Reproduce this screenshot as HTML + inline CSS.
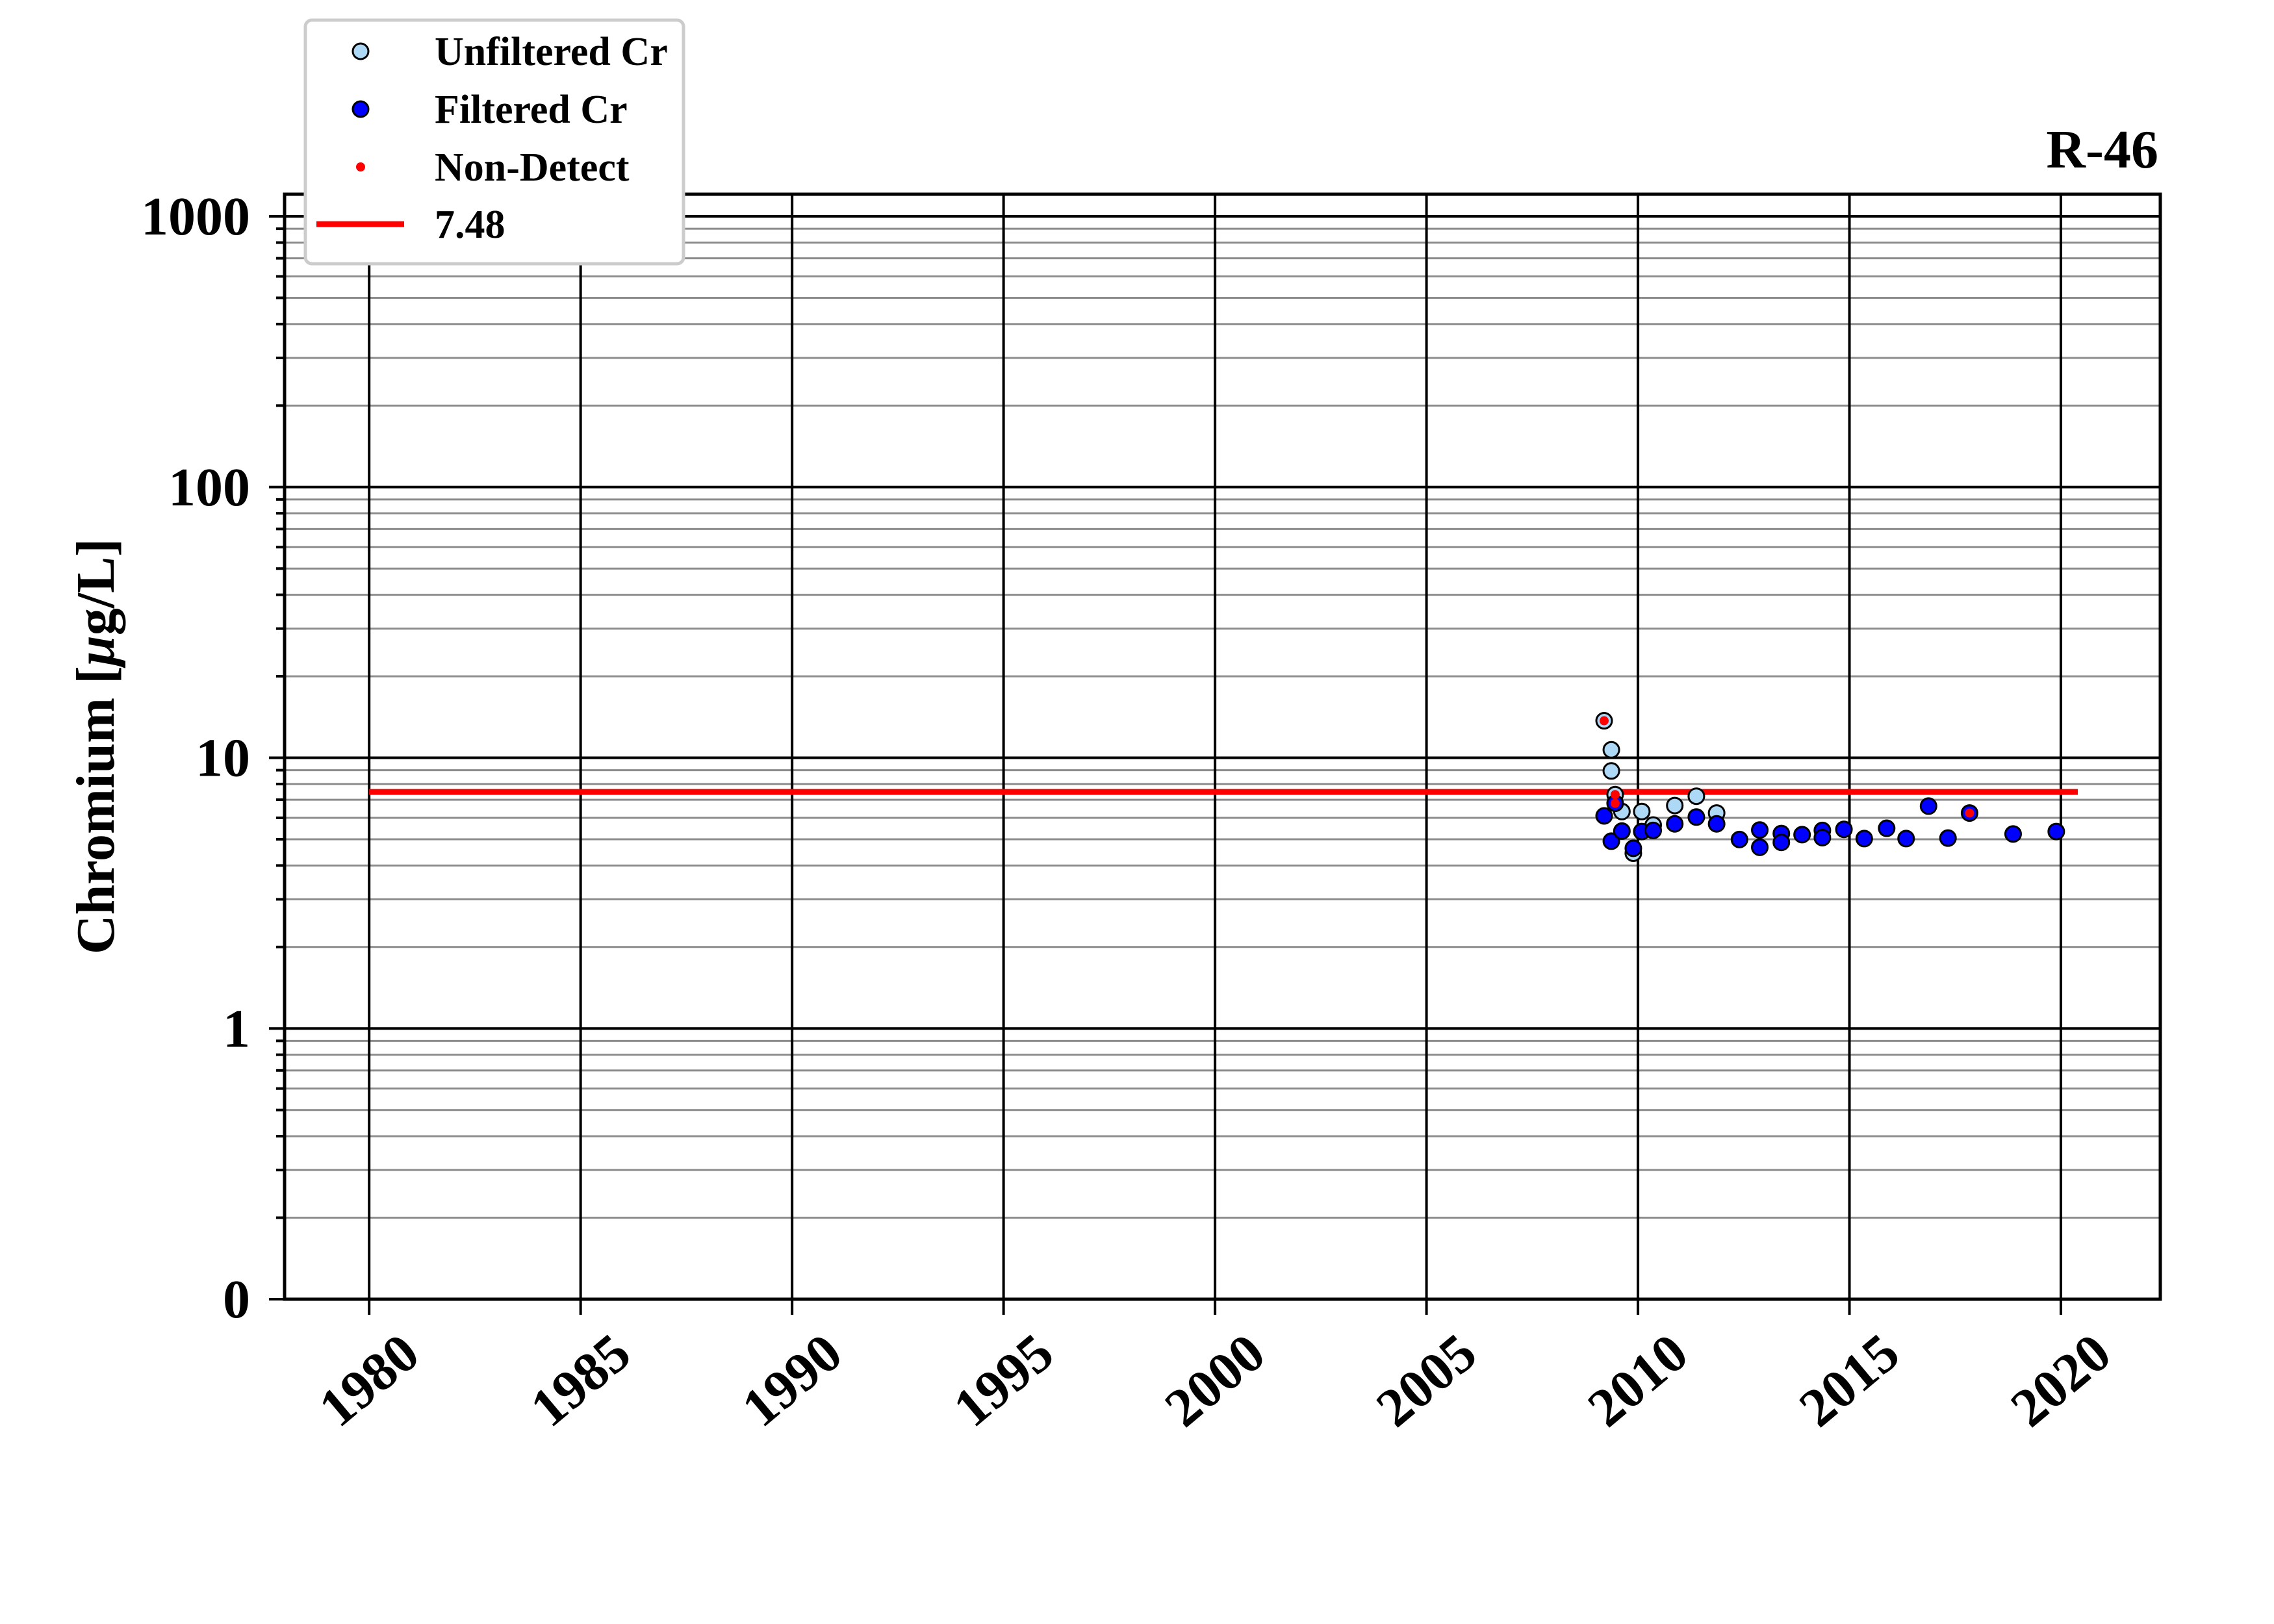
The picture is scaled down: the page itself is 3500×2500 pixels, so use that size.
<!DOCTYPE html>
<html><head><meta charset="utf-8"><style>
html,body{margin:0;padding:0;background:#fff;}
svg{display:block;font-family:"Liberation Serif",serif;font-weight:bold;}
</style></head><body>
<svg id="chart" width="3500" height="2500" viewBox="0 0 3500 2500" xmlns="http://www.w3.org/2000/svg">
<g id="grid"></g>
<g id="series"></g>
<g id="axes"></g>
<text x="3322" y="258" font-size="84" text-anchor="end">R-46</text>
<text transform="translate(175,1149) rotate(-90)" font-size="84" text-anchor="middle">Chromium [<tspan font-style="italic">μ</tspan>g/L]</text>
<g>
<rect x="470" y="31" width="582" height="375" rx="10" fill="#fff" stroke="#ccc" stroke-width="5"/>
<circle cx="555" cy="79" r="12" fill="#add8f6" stroke="#000" stroke-width="3"/>
<text x="669" y="100" font-size="62">Unfiltered Cr</text>
<circle cx="555" cy="168" r="12" fill="#0000ff" stroke="#000" stroke-width="3"/>
<text x="669" y="189" font-size="62">Filtered Cr</text>
<circle cx="555" cy="257" r="7" fill="#ff0000"/>
<text x="669" y="278" font-size="62">Non-Detect</text>
<line x1="487" y1="345" x2="622" y2="345" stroke="#ff0000" stroke-width="9"/>
<text x="669" y="366" font-size="62">7.48</text>
</g>
</svg>
<script>
const xTicks = [1980,1985,1990,1995,2000,2005,2010,2015,2020];
const yTicks = [0.1,1,10,100,1000];
const yTickLabels = ["0","1","10","100","1000"];
const threshold = 7.48;
const thresholdStart = 1980;
const thresholdEnd = 2020.4;
const unfYears = [2009.2,2009.37,2009.37,2009.46,2009.62,2010.09,2010.36,2010.87,2011.38,2011.86,2009.89];
const unfValues = [13.7,10.7,8.94,7.31,6.33,6.33,5.64,6.66,7.21,6.25,4.44];
const filYears = [2009.2,2009.46,2009.37,2009.62,2009.89,2010.09,2010.36,2010.87,2011.38,2011.86,2012.40,2012.88,2012.88,2013.39,2013.39,2013.88,2014.36,2014.36,2014.87,2015.35,2015.88,2016.34,2016.87,2017.33,2017.84,2018.87,2019.89];
const filValues = [6.10,6.79,4.92,5.36,4.63,5.34,5.39,5.70,6.04,5.70,4.99,5.41,4.67,5.25,4.87,5.20,5.39,5.07,5.44,5.03,5.49,5.03,6.63,5.05,6.25,5.23,5.34];
const ndYears = [2009.2,2009.46,2009.46,2017.84];
const ndValues = [13.7,7.31,6.79,6.25];

const L=438,R=3325,T=299,B=2000;
const X0=1978.0,X1=2022.35,YMIN=-1,YMAX=Math.log10(1207);
function xs(v){return L+(v-X0)/(X1-X0)*(R-L);}
function ys(v){return B-(Math.log10(v)-YMIN)/(YMAX-YMIN)*(B-T);}
const NS="http://www.w3.org/2000/svg";
function mk(tag,parent,attrs){const e=document.createElementNS(NS,tag);for(const k in attrs)e.setAttribute(k,attrs[k]);parent.appendChild(e);return e;}
const grid=document.getElementById('grid'),axes=document.getElementById('axes'),series=document.getElementById('series');

for(let d=-1;d<3;d++){for(let m=2;m<=9;m++){const v=m*Math.pow(10,d);const y=ys(v);
 const g=mk('line',grid,{x1:L,x2:R,y1:y,y2:y,stroke:'#8c8c8c','stroke-width':3});
 
 
 const t=mk('line',axes,{x1:L-13,x2:L,y1:y,y2:y,stroke:'#000','stroke-width':4});
 
 
}}
yTicks.forEach((v,i)=>{const y=ys(v);
 const g=mk('line',grid,{x1:L,x2:R,y1:y,y2:y,stroke:'#000','stroke-width':4});
 
 
 const t=mk('line',axes,{x1:L-24,x2:L,y1:y,y2:y,stroke:'#000','stroke-width':4});
 
 
 const tx=mk('text',axes,{x:385,y:y+28,'font-size':84,'text-anchor':'end'});
 tx.textContent=yTickLabels[i];
 
 
});
xTicks.forEach(v=>{const x=xs(v);
 const g=mk('line',grid,{x1:x,x2:x,y1:T,y2:B,stroke:'#000','stroke-width':4});
 
 
 const t=mk('line',axes,{x1:x,x2:x,y1:B,y2:B+24,stroke:'#000','stroke-width':4});
 
 
 const tx=mk('text',axes,{x:0,y:0,'font-size':84,'text-anchor':'middle','dominant-baseline':'central',transform:`translate(${x},${2125}) rotate(-40)`});
 tx.textContent=String(v);
 
 
});
const sp=mk('rect',axes,{x:L,y:T,width:R-L,height:B-T,fill:'none',stroke:'#000','stroke-width':5});



const th=mk('line',series,{x1:xs(thresholdStart),x2:xs(thresholdEnd),y1:ys(threshold),y2:ys(threshold),stroke:'#ff0000','stroke-width':9});



unfYears.forEach((yr,i)=>{const c=mk('circle',series,{cx:xs(yr),cy:ys(unfValues[i]),r:12,fill:'#add8f6',stroke:'#000','stroke-width':3});
 
 });
filYears.forEach((yr,i)=>{const c=mk('circle',series,{cx:xs(yr),cy:ys(filValues[i]),r:12,fill:'#0000ff',stroke:'#000','stroke-width':3});
 
 });
ndYears.forEach((yr,i)=>{const c=mk('circle',series,{cx:xs(yr),cy:ys(ndValues[i]),r:7,fill:'#ff0000'});
 
 });
</script>
</body></html>
